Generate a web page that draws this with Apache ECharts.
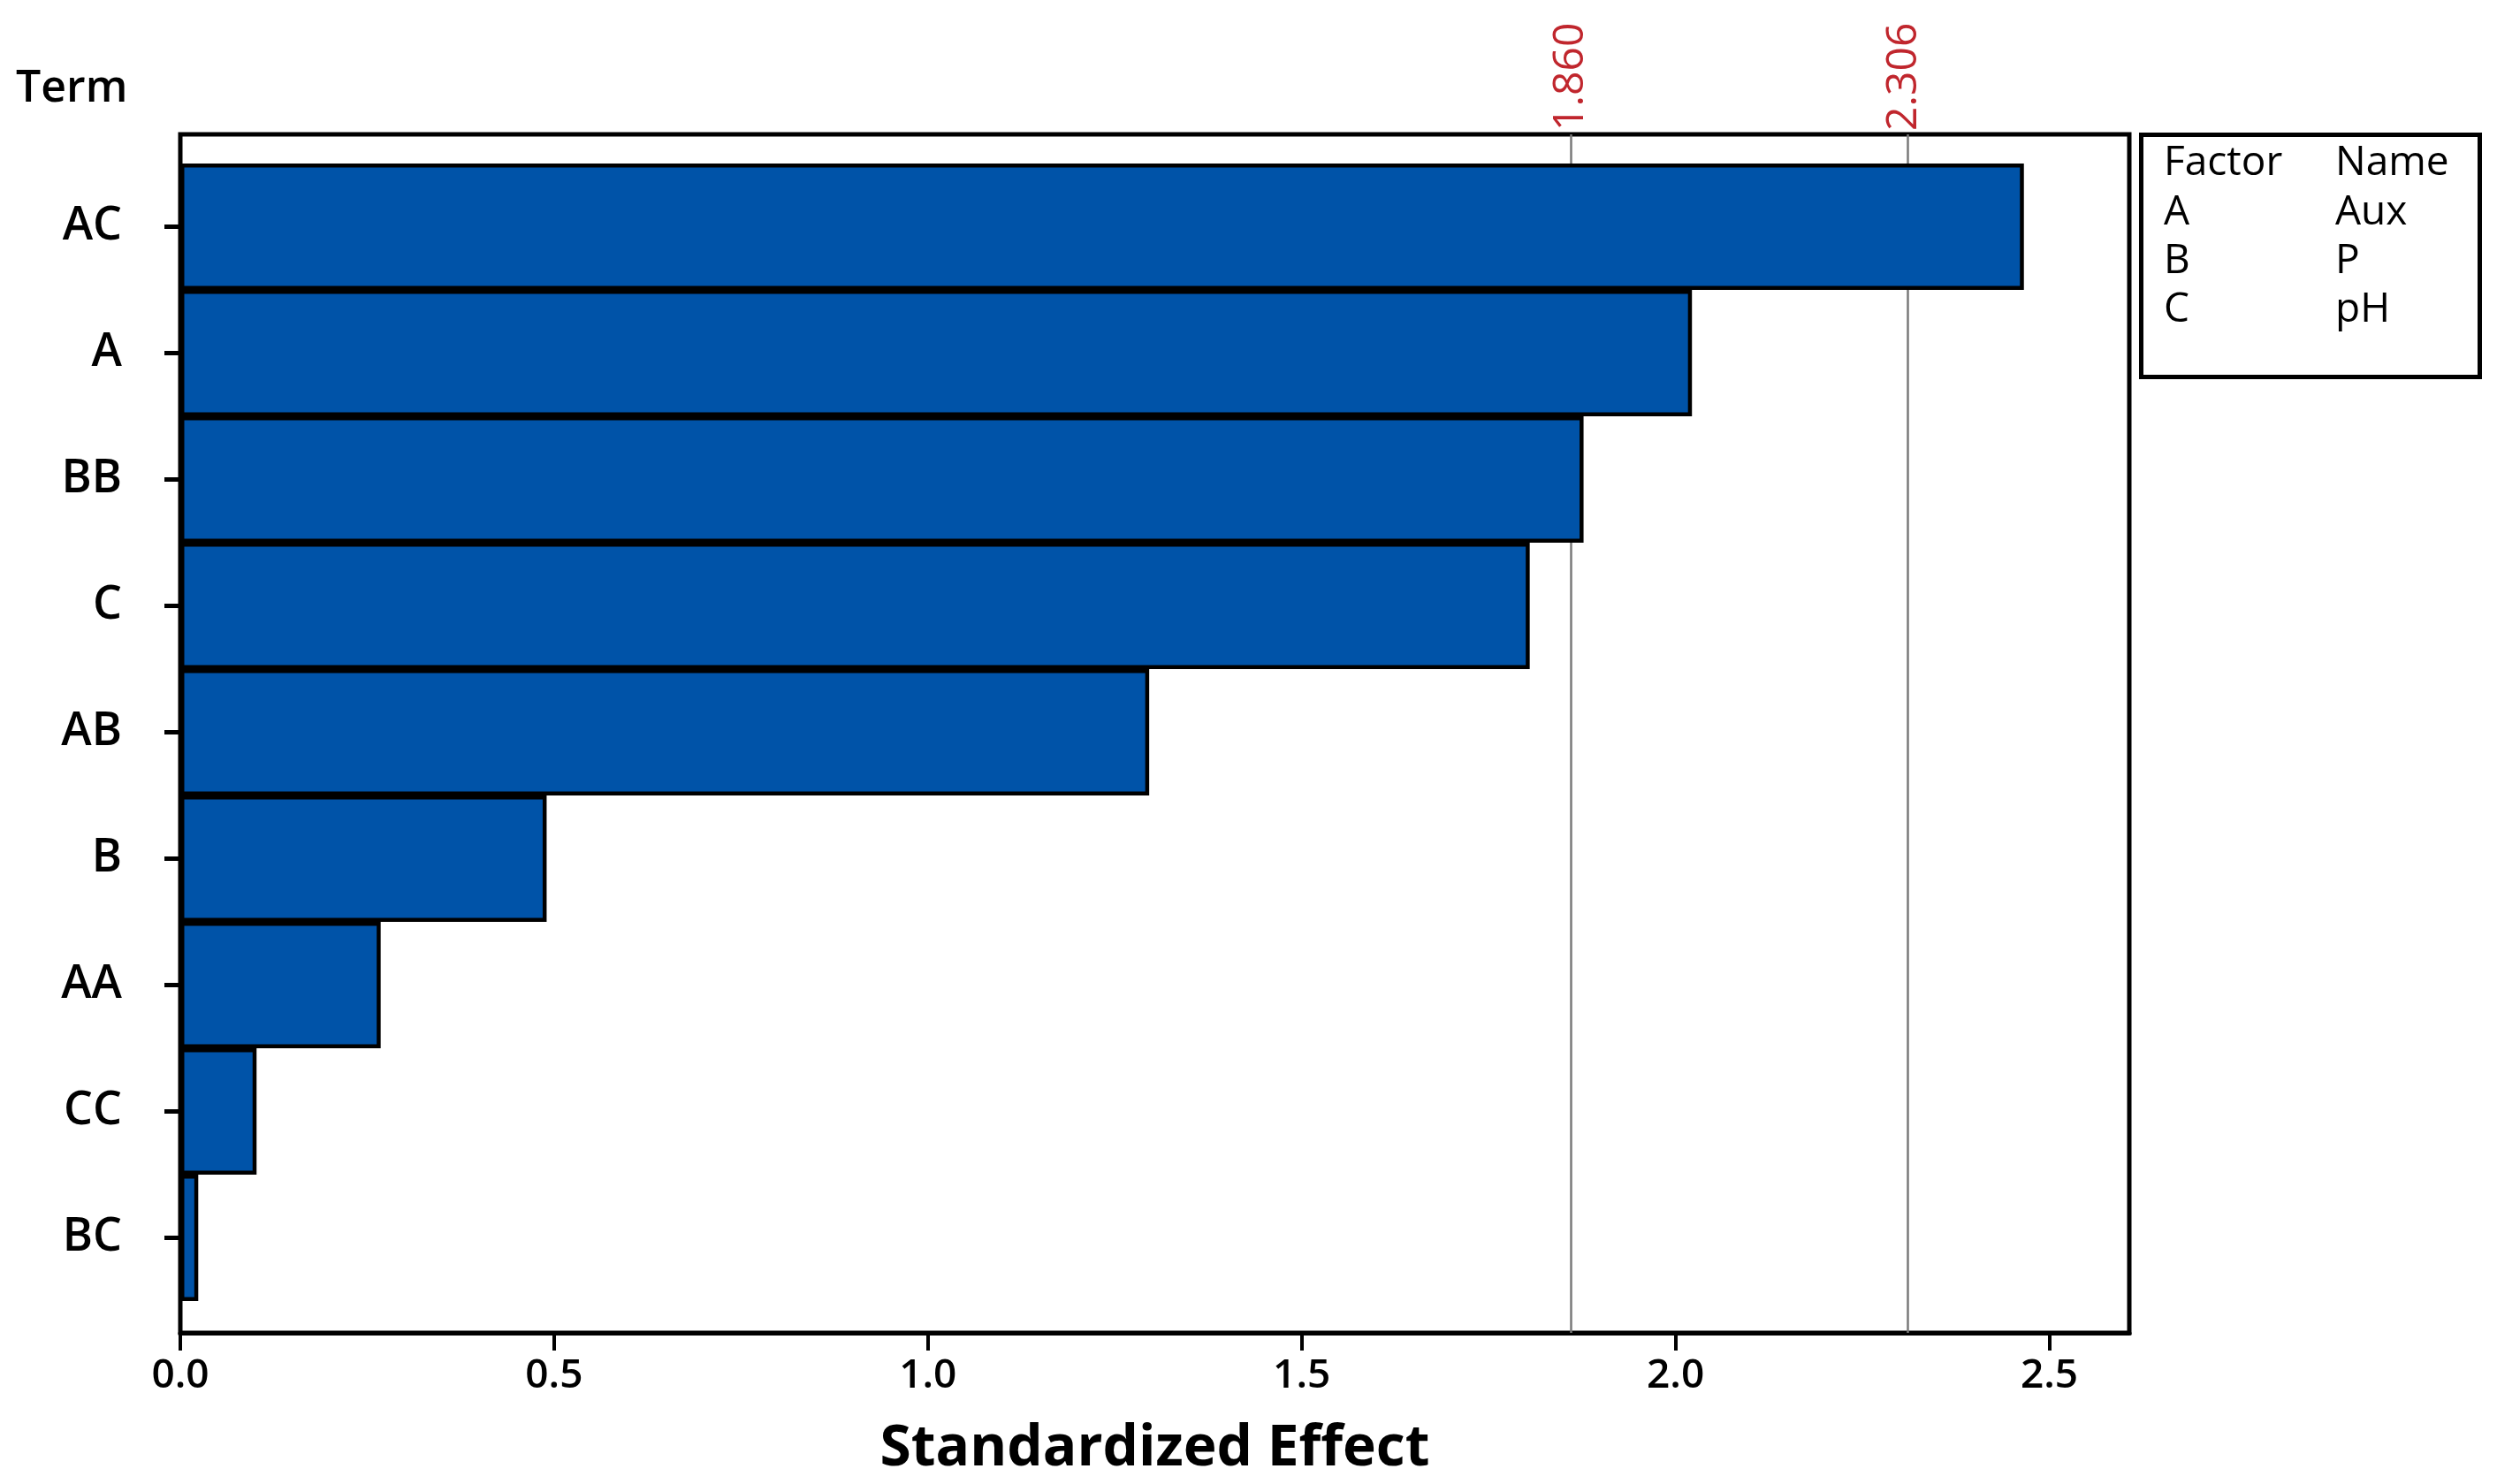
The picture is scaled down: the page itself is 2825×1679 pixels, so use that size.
<!DOCTYPE html>
<html>
<head>
<meta charset="utf-8">
<script src="https://cdn.jsdelivr.net/npm/echarts@6/dist/echarts.min.js"></script>
<style>
html,body{margin:0;padding:0;background:#fff;}
#chart{width:2825px;height:1679px;}
</style>
</head>
<body>
<div id="chart"></div>
<script>
// ---- data ----
var terms = ['AC', 'A', 'BB', 'C', 'AB', 'B', 'AA', 'CC', 'BC'];
var effects = [2.466, 2.022, 1.877, 1.805, 1.296, 0.490, 0.268, 0.102, 0.024];
var refLines = [1.860, 2.306];
var xTicks = [0, 0.5, 1.0, 1.5, 2.0, 2.5];
var xMax = 2.607;
var factorLetters = ['A', 'B', 'C'];
var factorNames = ['Aux', 'P', 'pH'];

// ---- chart ----
var chart = echarts.init(document.getElementById('chart'));
var FONT = 'Open Sans';

var legendGraphics = [
  {type: 'rect', left: 2420, top: 150, shape: {width: 383, height: 274},
   style: {fill: '#fff', stroke: '#000', lineWidth: 5}},
  {type: 'text', left: 2448, top: 162, style: {text: 'Factor', font: '46px "' + FONT + '"', fill: '#000'}},
  {type: 'text', left: 2642, top: 162, style: {text: 'Name', font: '46px "' + FONT + '"', fill: '#000'}}
];
factorLetters.forEach(function (f, i) {
  legendGraphics.push({type: 'text', left: 2448, top: 218 + i * 55,
    style: {text: f, font: '46px "' + FONT + '"', fill: '#000'}});
  legendGraphics.push({type: 'text', left: 2642, top: 218 + i * 55,
    style: {text: factorNames[i], font: '46px "' + FONT + '"', fill: '#000'}});
});
legendGraphics.push({type: 'text', left: 18, top: 76,
  style: {text: 'Term', font: '600 50px "' + FONT + '"', fill: '#000'}});

var option = {
  backgroundColor: '#fff',
  animation: false,
  textStyle: {fontFamily: FONT},
  grid: [
    {left: 204, right: 416, top: 152, bottom: 171, show: true, borderColor: '#000', borderWidth: 5, backgroundColor: 'transparent'},
    {left: 204, right: 416, top: 185, bottom: 207}
  ],
  xAxis: [
    {
      type: 'value', gridIndex: 0, min: 0, max: xMax, interval: 0.5,
      splitLine: {show: false},
      axisLine: {show: true, lineStyle: {color: '#000', width: 5}},
      axisTick: {show: true, inside: false, length: 20, customValues: xTicks, lineStyle: {color: '#000', width: 4}},
      axisLabel: {show: true, customValues: xTicks, margin: 26, fontSize: 46, fontWeight: 600, color: '#000', fontFamily: FONT,
        formatter: function (v) { return v.toFixed(1); }},
      name: 'Standardized Effect', nameLocation: 'middle', nameGap: 100,
      nameTextStyle: {fontSize: 64, fontWeight: 'bold', color: '#000', fontFamily: FONT}
    },
    {
      type: 'value', gridIndex: 1, min: 0, max: xMax, show: false, splitLine: {show: false}
    },
    {
      type: 'value', gridIndex: 0, position: 'top', min: 0, max: xMax,
      splitLine: {show: false}, axisLine: {show: false}, axisTick: {show: false},
      axisLabel: {show: true, customValues: refLines, rotate: -90, margin: 4, fontSize: 48, fontWeight: 500, color: '#c0262d', fontFamily: FONT,
        formatter: function (v) { return v.toFixed(3); }}
    }
  ],
  yAxis: [
    {type: 'value', gridIndex: 0, min: 0, max: 1, show: false, splitLine: {show: false}},
    {
      type: 'category', gridIndex: 1, data: terms, inverse: true,
      axisLine: {show: false},
      axisTick: {show: true, inside: false, length: 18, alignWithLabel: true, lineStyle: {color: '#000', width: 5}},
      axisLabel: {margin: 66, fontSize: 52, fontWeight: 600, color: '#000', fontFamily: FONT},
      splitLine: {show: false}
    }
  ],
  series: [
    {
      type: 'line', xAxisIndex: 0, yAxisIndex: 0, data: [], z: 1, silent: true,
      markLine: {
        silent: true, symbol: 'none', z: 1,
        label: {show: false},
        lineStyle: {color: '#7a7a7a', width: 2.5, type: 'solid'},
        data: refLines.map(function (v) { return {xAxis: v}; })
      }
    },
    {
      type: 'bar', xAxisIndex: 1, yAxisIndex: 1, data: effects, z: 3,
      barCategoryGap: '0%',
      itemStyle: {color: '#0053a8', borderColor: '#000', borderWidth: 4.5}
    }
  ],
  graphic: legendGraphics
};
chart.setOption(option);
</script>
</body>
</html>
